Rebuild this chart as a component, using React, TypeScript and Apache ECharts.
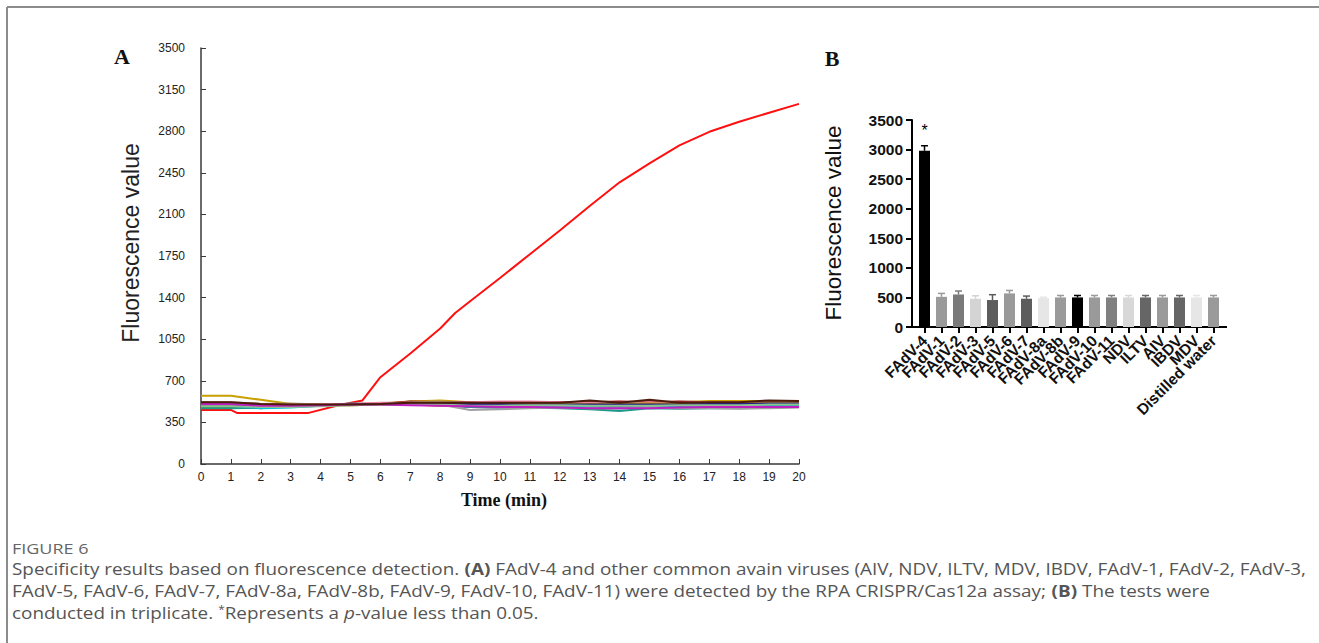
import React, { useEffect, useRef } from "react";
import * as echarts from "echarts";

// ---------- Panel A data ----------
const timeMin = [0, 1, 2, 3, 4, 5, 6, 7, 8, 9, 10, 11, 12, 13, 14, 15, 16, 17, 18, 19, 20];

const redTimes = [0, 1, 1.2, 3.6, 4.6, 5.4, 6, 7, 8, 8.5, 9, 10, 11, 12, 13, 14, 15, 16, 17, 18, 19, 20];
const redValues = [455, 455, 430, 430, 495, 535, 730, 930, 1140, 1270, 1370, 1565, 1765, 1965, 2170, 2370, 2530, 2680, 2795, 2880, 2955, 3030];

const baseGold = [575, 575, 540, 505, 500, 505, 510, 525, 535, 520, 515, 515, 515, 515, 515, 515, 520, 530, 530, 530, 530];
const baseMaroon = [515, 515, 505, 505, 500, 500, 505, 525, 520, 520, 520, 520, 520, 520, 525, 520, 525, 520, 520, 525, 525];
const basePurple = [510, 510, 495, 495, 500, 505, 505, 500, 495, 480, 475, 480, 480, 470, 470, 475, 480, 480, 485, 490, 495];
const baseBlue = [495, 495, 485, 485, 495, 505, 505, 500, 495, 490, 485, 480, 485, 480, 480, 485, 485, 490, 490, 490, 490];
const baseGreen = [480, 480, 470, 490, 495, 500, 505, 505, 505, 500, 500, 500, 500, 495, 495, 495, 500, 500, 500, 500, 500];
const baseTeal = [470, 470, 475, 480, 490, 510, 505, 500, 500, 480, 475, 475, 470, 460, 445, 470, 465, 470, 470, 475, 480];
const baseCyan = [490, 490, 470, 475, 490, 500, 505, 500, 495, 490, 485, 485, 480, 480, 470, 480, 475, 480, 480, 485, 485];
const baseGray = [500, 500, 495, 500, 500, 505, 505, 505, 500, 455, 460, 470, 475, 470, 470, 475, 470, 470, 465, 470, 475];
const basePink = [505, 505, 500, 500, 505, 505, 515, 515, 515, 520, 525, 525, 520, 515, 515, 520, 515, 520, 520, 520, 520];
const baseTan = [520, 520, 505, 510, 500, 495, 500, 520, 525, 510, 505, 505, 505, 505, 510, 510, 505, 515, 515, 515, 515];
const baseOrange = [500, 500, 500, 495, 490, 495, 500, 500, 490, 500, 500, 505, 505, 505, 505, 510, 505, 510, 510, 515, 520];
const baseNavy = [500, 500, 495, 490, 495, 500, 505, 510, 510, 505, 505, 500, 500, 500, 500, 500, 500, 505, 505, 510, 510];
const baseLightGreen = [485, 485, 480, 480, 485, 495, 500, 500, 500, 490, 490, 495, 495, 490, 490, 490, 495, 495, 495, 500, 500];
const baseMagenta = [505, 505, 490, 490, 495, 500, 500, 495, 490, 485, 480, 480, 475, 470, 470, 470, 475, 480, 480, 480, 480];
const baseDarkBrown = [520, 520, 505, 500, 500, 500, 505, 515, 515, 515, 515, 515, 515, 535, 515, 540, 515, 520, 520, 535, 530];

const baselines = [
  baseGold, baseMaroon, basePurple, baseBlue, baseGreen, baseTeal, baseCyan, baseGray,
  basePink, baseTan, baseOrange, baseNavy, baseLightGreen, baseMagenta, baseDarkBrown,
];
const baselineColors = [
  "#c8a000", "#8b0000", "#7b2fbe", "#3355cc", "#1a8a1a", "#1a9a8a", "#00c8d8", "#a0a0a0",
  "#f080a0", "#b09070", "#d09000", "#20208a", "#90c090", "#c020c0", "#4a1a0a",
];

// ---------- Panel B data ----------
const categories = [
  "FAdV-4", "FAdV-1", "FAdV-2", "FAdV-3", "FAdV-5", "FAdV-6", "FAdV-7", "FAdV-8a", "FAdV-8b",
  "FAdV-9", "FAdV-10", "FAdV-11", "NDV", "ILTV", "AIV", "IBDV", "MDV", "Distilled water",
];
const barValues = [2980, 510, 550, 478, 456, 568, 478, 488, 500, 500, 500, 500, 500, 500, 500, 500, 500, 500];
const barErrors = [85, 58, 58, 50, 90, 50, 45, 15, 33, 33, 33, 33, 33, 33, 33, 33, 33, 33];
const barSig = ["*", "", "", "", "", "", "", "", "", "", "", "", "", "", "", "", "", ""];
const barColors = [
  "#000000", "#9a9a9a", "#7a7a7a", "#d4d4d4", "#5c5c5c", "#9a9a9a", "#5c5c5c", "#e6e6e6", "#9a9a9a",
  "#000000", "#9a9a9a", "#808080", "#d8d8d8", "#666666", "#9a9a9a", "#666666", "#e6e6e6", "#9a9a9a",
];

const captionLine1 =
  "Specificity results based on fluorescence detection. {b|(A)} FAdV-4 and other common avain viruses (AIV, NDV, ILTV, MDV, IBDV, FAdV-1, FAdV-2, FAdV-3,";
const captionLine2 =
  "FAdV-5, FAdV-6, FAdV-7, FAdV-8a, FAdV-8b, FAdV-9, FAdV-10, FAdV-11) were detected by the RPA CRISPR/Cas12a assay; {b|(B)} The tests were";
const captionLine3 = "conducted in triplicate. {sup|*}Represents a {i|p}-value less than 0.05.";

export default function App() {
  const ref = useRef<HTMLDivElement>(null);

  useEffect(() => {
    if (!ref.current) return;
    const chart = echarts.init(ref.current, undefined, { renderer: "svg" });

    const capFont = "'Open Sans', 'Noto Sans', sans-serif";
    const capRich = {
      b: { fontWeight: "bold", fontSize: 16, fontFamily: capFont, color: "#555" },
      i: { fontStyle: "italic", fontSize: 16, fontFamily: capFont, color: "#555" },
      sup: { fontSize: 10, fontFamily: capFont, color: "#555", verticalAlign: "top", padding: [0, 0, 8, 0] },
    };
    const capScale = 1.18;

    const lineSeries: any[] = baselines.map((vals, k) => ({
      type: "line",
      xAxisIndex: 0,
      yAxisIndex: 0,
      data: timeMin.map((t, i) => [t, vals[i]]),
      showSymbol: false,
      lineStyle: { color: baselineColors[k], width: 2 },
      itemStyle: { color: baselineColors[k] },
      z: 3,
    }));
    lineSeries.push({
      type: "line",
      xAxisIndex: 0,
      yAxisIndex: 0,
      data: redTimes.map((t, i) => [t, redValues[i]]),
      showSymbol: false,
      lineStyle: { color: "#ff1010", width: 2 },
      itemStyle: { color: "#ff1010" },
      z: 2,
    });

    const plain = (v: number) => String(v);

    const option: any = {
      animation: false,
      backgroundColor: "#ffffff",
      grid: [
        { left: 201, top: 48, width: 598, height: 416 },
        { left: 916, top: 120, width: 306, height: 207 },
      ],
      xAxis: [
        {
          gridIndex: 0,
          type: "value",
          min: 0,
          max: 20,
          interval: 1,
          axisLine: { show: true, lineStyle: { color: "#3a3a3a", width: 1.5 } },
          axisTick: { show: true, inside: true, length: 5, lineStyle: { color: "#3a3a3a", width: 1 } },
          axisLabel: { fontSize: 12, color: "#222", margin: 7, formatter: plain, fontFamily: "'Liberation Sans', Arial, sans-serif" },
          splitLine: { show: false },
        },
        {
          gridIndex: 1,
          type: "category",
          data: categories,
          axisLine: { show: true, lineStyle: { color: "#000", width: 2 } },
          axisTick: { show: true, alignWithLabel: true, length: 6, lineStyle: { color: "#000", width: 2 } },
          axisLabel: {
            rotate: 45,
            interval: 0,
            fontSize: 15.5,
            fontWeight: "bold",
            color: "#111",
            margin: 11,
            fontFamily: "'Liberation Sans', Arial, sans-serif",
          },
          splitLine: { show: false },
        },
      ],
      yAxis: [
        {
          gridIndex: 0,
          type: "value",
          min: 0,
          max: 3500,
          interval: 350,
          axisLine: { show: true, lineStyle: { color: "#3a3a3a", width: 1.5 } },
          axisTick: { show: true, inside: true, length: 5, lineStyle: { color: "#3a3a3a", width: 1 } },
          axisLabel: { fontSize: 12, color: "#222", margin: 16, formatter: plain, fontFamily: "'Liberation Sans', Arial, sans-serif" },
          splitLine: { show: false },
        },
        {
          gridIndex: 1,
          type: "value",
          min: 0,
          max: 3500,
          interval: 500,
          offset: 4,
          axisLine: { show: true, lineStyle: { color: "#000", width: 2 } },
          axisTick: { show: true, length: 6, lineStyle: { color: "#000", width: 2 } },
          axisLabel: { fontSize: 15.5, fontWeight: "bold", color: "#111", margin: 9, formatter: plain, fontFamily: "'Liberation Sans', Arial, sans-serif" },
          splitLine: { show: false },
        },
      ],
      series: [
        ...lineSeries,
        {
          type: "bar",
          xAxisIndex: 1,
          yAxisIndex: 1,
          barWidth: 11,
          data: barValues.map((v, i) => ({ value: v, itemStyle: { color: barColors[i] } })),
          label: {
            show: true,
            position: "top",
            distance: 12,
            formatter: (p: any) => barSig[p.dataIndex],
            fontSize: 16,
            color: "#000",
            fontFamily: "'Liberation Sans', Arial, sans-serif",
          },
          z: 2,
        },
        {
          type: "custom",
          xAxisIndex: 1,
          yAxisIndex: 1,
          data: barValues.map((v, i) => [i, v, barErrors[i]]),
          renderItem: (params: any, api: any) => {
            const idx = api.value(0);
            const v = api.value(1);
            const e = api.value(2);
            const p0 = api.coord([idx, v]);
            const p1 = api.coord([idx, v + e]);
            const c = barColors[params.dataIndex];
            const half = 3.5;
            return {
              type: "group",
              children: [
                { type: "line", shape: { x1: p0[0], y1: p0[1], x2: p1[0], y2: p1[1] }, style: { stroke: c, lineWidth: 1.5 } },
                { type: "line", shape: { x1: p1[0] - half, y1: p1[1], x2: p1[0] + half, y2: p1[1] }, style: { stroke: c, lineWidth: 1.5 } },
              ],
            };
          },
          z: 3,
        },
      ],
      graphic: [
        { type: "line", shape: { x1: 7, y1: 7, x2: 1319, y2: 7 }, style: { stroke: "#8c8c8c", lineWidth: 2 } },
        { type: "line", shape: { x1: 7, y1: 7, x2: 7, y2: 643 }, style: { stroke: "#8c8c8c", lineWidth: 2 } },
        { type: "line", shape: { x1: 911, y1: 327, x2: 1227, y2: 327 }, style: { stroke: "#000", lineWidth: 2 } },
        {
          type: "text", x: 122, y: 56,
          style: { text: "A", font: "bold 22px 'Liberation Serif', 'Times New Roman', serif", fill: "#111", textAlign: "center", textVerticalAlign: "middle" },
        },
        {
          type: "text", x: 832, y: 58,
          style: { text: "B", font: "bold 22px 'Liberation Serif', 'Times New Roman', serif", fill: "#111", textAlign: "center", textVerticalAlign: "middle" },
        },
        {
          type: "text", x: 131, y: 243, rotation: Math.PI / 2,
          style: { text: "Fluorescence value", font: "23px 'Liberation Sans', Arial, sans-serif", fill: "#222", textAlign: "center", textVerticalAlign: "middle" },
        },
        {
          type: "text", x: 833, y: 223, rotation: Math.PI / 2,
          style: { text: "Fluorescence value", font: "22.5px 'Liberation Sans', Arial, sans-serif", fill: "#111", textAlign: "center", textVerticalAlign: "middle" },
        },
        {
          type: "text", x: 504, y: 500,
          style: { text: "Time (min)", font: "bold 18px 'Liberation Serif', 'Times New Roman', serif", fill: "#111", textAlign: "center", textVerticalAlign: "middle" },
        },
        {
          type: "text", x: 12, y: 548, scaleX: 1.2,
          style: { text: "FIGURE 6", font: `15px ${capFont}`, fill: "#666", textAlign: "left", textVerticalAlign: "middle" },
        },
        {
          type: "text", x: 12, y: 569, scaleX: capScale,
          style: { text: captionLine1, font: `16px ${capFont}`, fill: "#555", textAlign: "left", textVerticalAlign: "middle", rich: capRich },
        },
        {
          type: "text", x: 12, y: 591, scaleX: capScale,
          style: { text: captionLine2, font: `16px ${capFont}`, fill: "#555", textAlign: "left", textVerticalAlign: "middle", rich: capRich },
        },
        {
          type: "text", x: 12, y: 613, scaleX: capScale,
          style: { text: captionLine3, font: `16px ${capFont}`, fill: "#555", textAlign: "left", textVerticalAlign: "middle", rich: capRich },
        },
      ],
    };

    chart.setOption(option);
    return () => chart.dispose();
  }, []);

  return (
    <div
      ref={ref}
      style={{ position: "fixed", left: 0, top: 0, width: 1319, height: 643, background: "#fff" }}
    />
  );
}
